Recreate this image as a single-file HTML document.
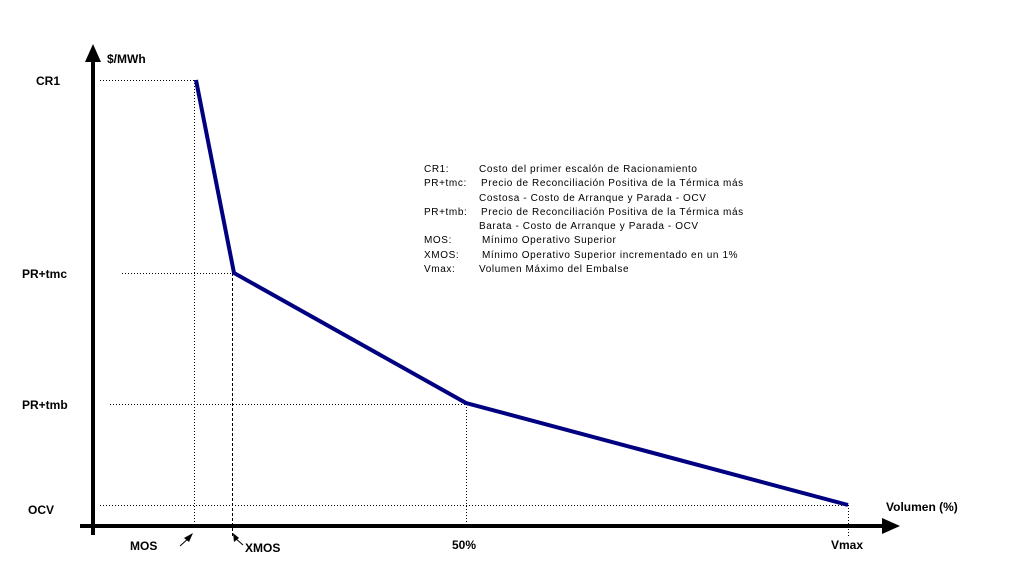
<!DOCTYPE html><html><head><style>body{margin:0;background:#fff}svg{display:block}text{font-family:"Liberation Sans",Arial,sans-serif}</style></head><body>
<svg width="1020" height="564" viewBox="0 0 1020 564">
<g stroke="#000" stroke-width="1" stroke-dasharray="1,2" fill="none">
<line x1="100" y1="80.5" x2="196" y2="80.5"/>
<line x1="122" y1="273.5" x2="234" y2="273.5"/>
<line x1="110" y1="404.5" x2="466" y2="404.5"/>
<line x1="100" y1="505.5" x2="848" y2="505.5"/>
<line x1="194.5" y1="80" x2="194.5" y2="528"/>
<line x1="232.5" y1="273" x2="232.5" y2="536" stroke-dasharray="3,2"/>
<line x1="466.5" y1="404" x2="466.5" y2="528"/>
<line x1="848.5" y1="505" x2="848.5" y2="536"/>
</g>
<line x1="93" y1="60" x2="93" y2="535" stroke="#000" stroke-width="4"/>
<polygon points="93,44 85,62 101,62" fill="#000"/>
<line x1="80" y1="526" x2="884" y2="526" stroke="#000" stroke-width="4"/>
<polygon points="900,526 882,518 882,534" fill="#000"/>
<polyline points="196,80 234,273 466,403 848,505" fill="none" stroke="#000080" stroke-width="4"/>
<g font-weight="bold" font-size="12">
<text x="107" y="63">$/MWh</text>
<text x="36" y="85">CR1</text>
<text x="22" y="278">PR+tmc</text>
<text x="22" y="409">PR+tmb</text>
<text x="28" y="514">OCV</text>
<text x="886" y="511">Volumen (%)</text>
<text x="130" y="550">MOS</text>
<text x="245" y="552">XMOS</text>
<text x="452" y="549">50%</text>
<text x="831" y="549">Vmax</text>
</g>
<line x1="180" y1="546" x2="190" y2="537" stroke="#000"/><polygon points="193,533 184,538 189,542" fill="#000"/>
<line x1="243" y1="545" x2="235" y2="538" stroke="#000"/><polygon points="233,533 234,542 239,538" fill="#000"/>
<g font-size="10" letter-spacing="0.6">
<text x="424" y="172">CR1:</text><text x="479" y="172">Costo del primer escalón de Racionamiento</text>
<text x="424" y="186">PR+tmc:</text><text x="481" y="186">Precio de Reconciliación Positiva de la Térmica más</text>
<text x="479" y="201">Costosa - Costo de Arranque y Parada - OCV</text>
<text x="424" y="215">PR+tmb:</text><text x="481" y="215">Precio de Reconciliación Positiva de la Térmica más</text>
<text x="479" y="229">Barata - Costo de Arranque y Parada - OCV</text>
<text x="424" y="243">MOS:</text><text x="482" y="243">Mínimo Operativo Superior</text>
<text x="424" y="258">XMOS:</text><text x="482" y="258">Mínimo Operativo Superior incrementado en un 1%</text>
<text x="424" y="272">Vmax:</text><text x="479" y="272">Volumen Máximo del Embalse</text>
</g>
</svg></body></html>
